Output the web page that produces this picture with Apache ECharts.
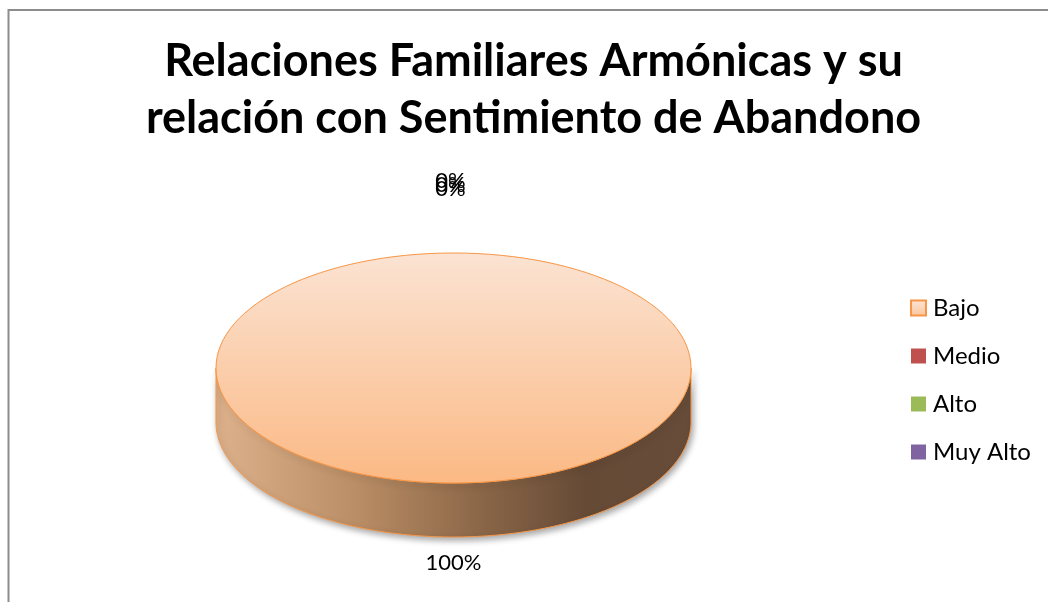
<!DOCTYPE html>
<html>
<head>
<meta charset="utf-8">
<script src="https://cdn.jsdelivr.net/npm/echarts@6/dist/echarts.min.js"></script>
<style>
  html, body { margin: 0; padding: 0; background: #ffffff; }
  #chart { width: 1048px; height: 602px; }
</style>
</head>
<body>
<div id="chart"></div>
<script>
// Chart content
const titleLines = ['Relaciones Familiares Armónicas y su', 'relación con Sentimiento de Abandono'];
const categories = ['Bajo', 'Medio', 'Alto', 'Muy Alto'];
const shares = [100, 0, 0, 0];
const legendColors = ['#f79646', '#c0504d', '#9bbb59', '#8064a2'];

const FONT = 'Lato, "Open Sans", sans-serif';

// 3D pie geometry (top ellipse + wall depth)
const PIE = { cx: 453.5, cy: 368, rx: 237.5, ry: 115, depth: 54 };
const total = shares.reduce((a, b) => a + b, 0);

const LG = echarts.graphic.LinearGradient;
const topFill = new LG(0, 0, 0, 1, [
  { offset: 0, color: '#fbe3d3' },
  { offset: 1, color: '#fbb984' }
]);
const wallFill = new LG(0, 0, 1, 0, [
  { offset: 0, color: '#ddb18b' },
  { offset: 0.3, color: '#b98d65' },
  { offset: 0.55, color: '#8c6748' },
  { offset: 0.78, color: '#654a36' },
  { offset: 1, color: '#674c39' }
]);

// angle measured clockwise from 12 o'clock
function topPt(a) { return [PIE.cx + PIE.rx * Math.sin(a), PIE.cy - PIE.ry * Math.cos(a)]; }
function botPt(a) { const p = topPt(a); return [p[0], p[1] + PIE.depth]; }

function arcPts(fn, a, b, steps) {
  const pts = [];
  for (let k = 0; k <= steps; k++) pts.push(fn(a + (b - a) * k / steps));
  return pts;
}

function renderSlice(params, api) {
  const i = params.seriesIndex;
  const v = api.value(0);
  let before = 0;
  for (let k = 0; k < i; k++) before += shares[k];
  const a0 = before / total * Math.PI * 2;
  const a1 = (before + v) / total * Math.PI * 2;
  const children = [];

  if (v > 0) {
    // visible front wall: between 3 o'clock and 9 o'clock
    const s = Math.max(a0, Math.PI / 2);
    const e = Math.min(a1, Math.PI * 3 / 2);
    if (e > s) {
      const pts = arcPts(topPt, s, e, 160).concat(arcPts(botPt, e, s, 160));
      children.push({
        type: 'polygon',
        shape: { points: pts },
        style: {
          fill: wallFill, stroke: '#f79646', lineWidth: 1,
          shadowBlur: 6, shadowColor: 'rgba(0,0,0,0.35)', shadowOffsetX: 2, shadowOffsetY: 3
        }
      });
    }
    // top face
    if (a1 - a0 >= Math.PI * 2 - 1e-9) {
      children.push({
        type: 'ellipse',
        shape: { cx: PIE.cx, cy: PIE.cy, rx: PIE.rx, ry: PIE.ry },
        style: { fill: topFill, stroke: '#f79646', lineWidth: 1 }
      });
    } else {
      const pts = [[PIE.cx, PIE.cy]].concat(arcPts(topPt, a0, a1, 160));
      children.push({
        type: 'polygon',
        shape: { points: pts },
        style: { fill: topFill, stroke: '#f79646', lineWidth: 1 }
      });
    }
  }

  // percentage label outside the slice
  const mid = (a0 + a1) / 2;
  const pct = Math.round(v / total * 100) + '%';
  const dist = v > 0 ? 26 : 68;
  const front = Math.cos(mid) < 0;
  let lx = PIE.cx + (PIE.rx + dist) * Math.sin(mid);
  let ly = PIE.cy - (PIE.ry + dist) * Math.cos(mid) + (front ? PIE.depth : 0);
  if (v === 0) { lx -= 3; ly += (i - 2) * 4; }
  children.push({
    type: 'text',
    style: {
      x: lx, y: ly, text: pct, fill: '#000000',
      font: '22px ' + FONT, align: 'center', verticalAlign: 'middle'
    },
    z2: 10
  });

  return { type: 'group', children: children };
}

const series = categories.map((name, i) => ({
  type: 'custom',
  name: name,
  coordinateSystem: 'none',
  renderItem: renderSlice,
  itemStyle: { color: legendColors[i] },
  data: [[shares[i]]],
  silent: true,
  z: i === 0 ? 2 : 3
}));

const legendData = categories.map((name, i) => i === 0
  ? { name: name, itemStyle: { color: new LG(0, 0, 0, 1, [{ offset: 0, color: '#fde6d6' }, { offset: 1, color: '#fbc49a' }]), borderColor: '#f79646', borderWidth: 2 } }
  : { name: name, itemStyle: { color: legendColors[i], borderWidth: 0 } });

const chart = echarts.init(document.getElementById('chart'), null, { renderer: 'canvas' });
chart.setOption({
  animation: false,
  backgroundColor: '#ffffff',
  title: {
    text: titleLines.join('\n'),
    left: 533.5,
    textAlign: 'center',
    top: 33,
    padding: 0,
    textStyle: { fontFamily: FONT, fontWeight: 'bold', fontSize: 45, lineHeight: 57, color: '#000000' }
  },
  legend: {
    orient: 'vertical',
    left: 910,
    top: 296,
    padding: 0,
    icon: 'rect',
    itemWidth: 15,
    itemHeight: 15,
    itemGap: 24,
    selectedMode: false,
    textStyle: { fontFamily: FONT, fontSize: 24, lineHeight: 24, color: '#000000', padding: [0, 0, 0, 2] },
    data: legendData
  },
  graphic: [{
    type: 'rect',
    shape: { x: 8.5, y: 10, width: 1100, height: 700 },
    style: { fill: 'none', stroke: '#8c8c8c', lineWidth: 2 },
    silent: true,
    z: -10
  }],
  series: series
});
</script>
</body>
</html>
